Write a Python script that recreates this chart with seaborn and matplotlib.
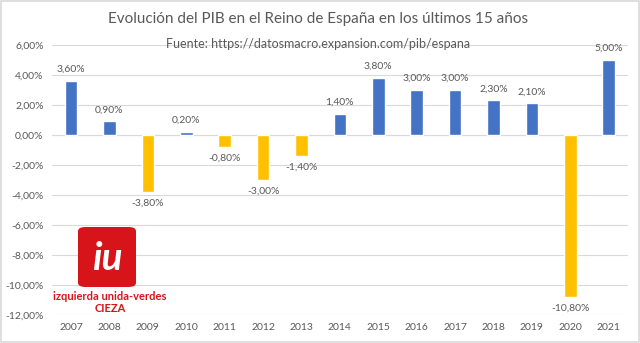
import matplotlib
matplotlib.use("Agg")
import matplotlib.pyplot as plt
import seaborn as sns
import pandas as pd
from matplotlib.patches import FancyBboxPatch, Rectangle

years = ["2007", "2008", "2009", "2010", "2011", "2012", "2013", "2014",
         "2015", "2016", "2017", "2018", "2019", "2020", "2021"]
growth = [3.6, 0.9, -3.8, 0.2, -0.8, -3.0, -1.4, 1.4, 3.8, 3.0, 3.0, 2.3, 2.1, -10.8, 5.0]
yticks = [6, 4, 2, 0, -2, -4, -6, -8, -10, -12]

BLUE = "#4472C4"
YELLOW = "#FFC000"
TXT = "#595959"

sns.set_theme(style="white")
plt.rcParams['font.family'] = ['Lato', 'DejaVu Sans']

df = pd.DataFrame({"year": years, "growth": growth})
df["sign"] = ["pos" if v >= 0 else "neg" for v in growth]

fig = plt.figure(figsize=(6.4, 3.43), dpi=100)
fig.patch.set_facecolor("white")
ax = fig.add_axes([0.081, 0.082, 0.90, 0.787])

sns.barplot(data=df, x="year", y="growth", hue="sign",
            palette={"pos": BLUE, "neg": YELLOW}, width=0.33,
            legend=False, ax=ax, dodge=False, saturation=1)

ax.set_ylim(-12, 6)
ax.set_yticks(yticks)
ax.set_yticklabels([f"{t:.2f}%".replace(".", ",") for t in yticks])
ax.grid(axis="y", color="#D9D9D9", linewidth=0.8)
ax.set_axisbelow(True)
for s in ax.spines.values():
    s.set_visible(False)
ax.set_xlabel("")
ax.set_ylabel("")
ax.tick_params(axis="both", length=0, labelsize=7.5, labelcolor=TXT, pad=6)
ax.axhline(0, color="#D9D9D9", linewidth=0.8, zorder=0)

for i, v in enumerate(growth):
    lab = f"{v:.2f}%".replace(".", ",")
    if v >= 0:
        ax.text(i, v + 0.45, lab, ha="center", va="bottom", fontsize=7.5, color=TXT)
    else:
        ax.text(i, v - 0.45, lab, ha="center", va="top", fontsize=7.5, color=TXT)

fig.text(0.497, 0.945, "Evolución del PIB en el Reino de España en los últimos 15 años",
         ha="center", va="center", fontsize=11, color=TXT)
fig.text(0.497, 0.873, "Fuente: https://datosmacro.expansion.com/pib/espana",
         ha="center", va="center", fontsize=9, color=TXT)

# logo
RED = "#D7141A"
fig.patches.append(FancyBboxPatch((78 / 640, 1 - 287 / 343), 58 / 640, 60 / 343,
                                  boxstyle="round,pad=0,rounding_size=0.012",
                                  transform=fig.transFigure, facecolor=RED,
                                  edgecolor="none", zorder=5))
fig.text(107 / 640, 1 - 258 / 343, "iu", ha="center", va="center", fontsize=28,
         fontweight="bold", fontstyle="italic", color="white", zorder=6)
fig.text(110 / 640, 1 - 296 / 343, "izquierda unida-verdes", ha="center", va="center",
         fontsize=8, fontweight="bold", color=RED, zorder=6)
fig.text(110 / 640, 1 - 308 / 343, "CIEZA", ha="center", va="center",
         fontsize=8, fontweight="bold", color=RED, zorder=6)

fig.patches.append(Rectangle((0.002, 0.003), 0.996, 0.994, transform=fig.transFigure,
                             facecolor="none", edgecolor="#D9D9D9", linewidth=1.2))

fig.savefig("out.png", dpi=100, facecolor="white")
